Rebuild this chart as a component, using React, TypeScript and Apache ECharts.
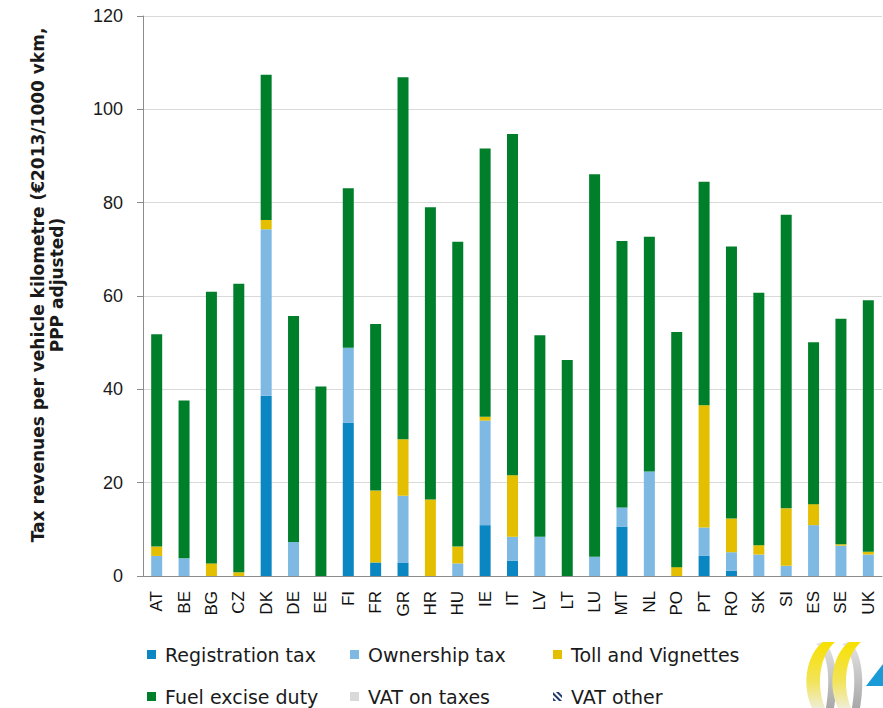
import React, { useEffect, useRef } from "react";
import * as echarts from "echarts";

const categories = ["AT","BE","BG","CZ","DK","DE","EE","FI","FR","GR","HR","HU","IE","IT","LV","LT","LU","MT","NL","PO","PT","RO","SK","SI","ES","SE","UK"];
const registrationTax = [0,0,0,0,38.6,0,0,32.8,2.9,2.9,0,0,10.9,3.3,0,0,0,10.6,0,0,4.3,1.1,0,0,0,0,0];
const ownershipTax =    [4.3,3.8,0,0,35.7,7.3,0,16.1,0,14.3,0,2.7,22.4,5.1,8.4,0,4.1,4.1,22.4,0,6.1,4.0,4.6,2.2,10.9,6.5,4.6];
const tollVignettes =   [2.0,0,2.7,0.8,2.0,0,0,0,15.4,12.1,16.4,3.6,0.8,13.2,0,0,0,0,0,1.9,26.2,7.2,2.0,12.3,4.5,0.3,0.6];
const fuelExcise =      [45.5,33.8,58.2,61.8,31.1,48.4,40.6,34.2,35.7,77.6,62.6,65.3,57.5,73.1,43.2,46.3,82.0,57.1,50.3,50.4,47.9,58.3,54.1,62.9,34.7,48.3,53.9];
const vatOnTaxes =      categories.map(() => 0);
const vatOther =        categories.map(() => 0);
const yTicks = [0, 20, 40, 60, 80, 100, 120];
const seriesNames = ["Registration tax", "Ownership tax", "Toll and Vignettes", "Fuel excise duty", "VAT on taxes", "VAT other"];

const FONT = "'Liberation Sans', Arial, sans-serif";
const VFONT = "'DejaVu Sans', Verdana, sans-serif";

echarts.graphic.registerShape(
  "ribbonY",
  echarts.graphic.extendPath("M21 0 L33 0 C19 12 13 40 23 66 L10 66 C-1 42 5 12 21 0 Z", {})
);
echarts.graphic.registerShape(
  "ribbonG",
  echarts.graphic.extendPath("M0 0 C12 4 18 34 12 66 L4 66 C9 36 6 10 -6 2 Z", {})
);

export default function App() {
  const ref = useRef<HTMLDivElement>(null);
  useEffect(() => {
    if (!ref.current) return;
    const chart = echarts.init(ref.current, undefined, { renderer: "svg" });
    const barW = 11;
    const mk = (name: string, data: number[], color: string, extra: any = {}) => ({
      name,
      type: "bar",
      stack: "total",
      barWidth: barW,
      data,
      itemStyle: { color, ...extra },
      emphasis: { disabled: true },
    });
    const yellowGrad = new echarts.graphic.LinearGradient(0, 0, 0, 1, [
      { offset: 0, color: "#f7e000" },
      { offset: 0.6, color: "#f2e45a" },
      { offset: 1, color: "#efedd6" },
    ]);
    const grayGrad = new echarts.graphic.LinearGradient(0, 0, 0, 1, [
      { offset: 0, color: "#e4e4e4" },
      { offset: 1, color: "#a8a8a8" },
    ]);
    const legendPos = [
      [147, 645], [350, 645], [553, 645],
      [147, 687], [350, 687], [553, 687],
    ];
    const legends = seriesNames.map((name, i) => ({
      left: legendPos[i][0],
      top: legendPos[i][1],
      padding: 0,
      itemWidth: 9,
      itemHeight: 9,
      icon: "rect",
      selectedMode: false,
      data: [name],
      textStyle: { fontFamily: VFONT, fontSize: 19, color: "#1a1a1a", padding: [0, 0, 0, 4] },
    }));
    chart.setOption({
      animation: false,
      grid: { left: 143, right: 1, top: 16, bottom: 132, containLabel: false },
      xAxis: {
        type: "category",
        data: categories,
        axisLine: { lineStyle: { color: "#8c8c8c" } },
        axisTick: { length: 6, lineStyle: { color: "#8c8c8c" } },
        axisLabel: { rotate: 90, fontFamily: FONT, fontSize: 17, color: "#111", margin: 15 },
      },
      yAxis: {
        type: "value",
        min: yTicks[0],
        max: yTicks[yTicks.length - 1],
        interval: 20,
        axisLine: { show: true, lineStyle: { color: "#8c8c8c" } },
        axisTick: { show: true, length: 6, lineStyle: { color: "#8c8c8c" } },
        axisLabel: { fontFamily: FONT, fontSize: 18, color: "#1a1a1a", margin: 20 },
        splitLine: { lineStyle: { color: "#d9d9d9" } },
      },
      legend: legends,
      series: [
        mk(seriesNames[0], registrationTax, "#0a86c2"),
        mk(seriesNames[1], ownershipTax, "#7db9e3"),
        mk(seriesNames[2], tollVignettes, "#e4bf00"),
        mk(seriesNames[3], fuelExcise, "#007f2b"),
        mk(seriesNames[4], vatOnTaxes, "#d9d9d9"),
        mk(seriesNames[5], vatOther, "#ffffff", {
          decal: {
            symbol: "rect",
            color: "#1f3a6e",
            dashArrayX: [1, 0],
            dashArrayY: [2, 1.5],
            rotation: Math.PI / 4,
          },
        }),
      ],
      graphic: [
        {
          type: "text",
          x: 47,
          y: 285,
          rotation: Math.PI / 2,
          style: {
            text: "Tax revenues per vehicle kilometre (€2013/1000 vkm,\nPPP adjusted)",
            fontFamily: VFONT,
            fontSize: 17,
            fontWeight: "bold",
            fill: "#1a1a1a",
            align: "center",
            verticalAlign: "middle",
            lineHeight: 19,
          },
        },
        { type: "ribbonG", x: 822, y: 642, style: { fill: grayGrad } },
        { type: "ribbonY", x: 802, y: 642, style: { fill: yellowGrad } },
        { type: "ribbonG", x: 848, y: 642, style: { fill: grayGrad } },
        { type: "ribbonY", x: 828, y: 642, style: { fill: yellowGrad } },
        { type: "polygon", shape: { points: [[866, 686], [883, 664], [883, 686]] }, style: { fill: "#1a9ad6" } },
      ],
    });
    return () => chart.dispose();
  }, []);
  return (
    <div
      ref={ref}
      style={{ position: "fixed", left: 0, top: 0, width: 883, height: 708, background: "#fff" }}
    />
  );
}
